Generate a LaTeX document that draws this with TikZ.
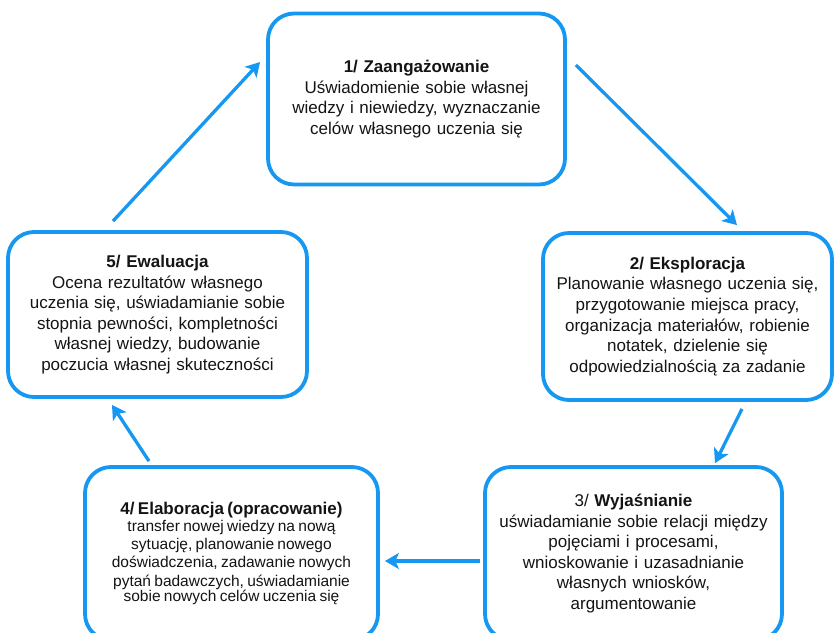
\documentclass[tikz,border=0pt]{standalone}
\usepackage{fontspec}
\setmainfont{Liberation Sans}
\usetikzlibrary{arrows.meta}
\definecolor{cycblue}{RGB}{22,152,242}
\definecolor{txt}{RGB}{20,20,20}
\tikzset{
  box/.style={draw=cycblue, line width=3.8pt, rounded corners=26pt, fill=white,
    inner sep=0pt, align=center, text=txt},
  big/.style={font=\fontsize{17pt}{20.6pt}\selectfont},
  arr/.style={draw=cycblue, line width=3.3pt, -{Stealth[length=14pt,width=16pt,inset=3.5pt]}},
}
\begin{document}
\begin{tikzpicture}[x=1pt,y=-1pt]
\useasboundingbox (0,0) rectangle (835,632);
\clip (0,0) rectangle (835,632);
\fill[white] (0,0) rectangle (835,632);

\node[box, big, minimum width=297pt, minimum height=171pt, text width=290pt] (b1) at (416.5,99)
  {\textbf{1/ Zaangażowanie}\\Uświadomienie sobie własnej\\wiedzy i niewiedzy, wyznaczanie\\celów własnego uczenia się};

\node[box, big, minimum width=289pt, minimum height=167pt, text width=282pt] (b2) at (687.5,316.5)
  {\textbf{2/ Eksploracja}\\Planowanie własnego uczenia się,\\przygotowanie miejsca pracy,\\organizacja materiałów, robienie\\notatek, dzielenie się\\odpowiedzialnością za zadanie};

\node[box, big, minimum width=297pt, minimum height=173pt, text width=290pt] (b3) at (633.5,553.5)
  {3/ \textbf{Wyjaśnianie}\\uświadamianie sobie relacji między\\pojęciami i procesami,\\wnioskowanie i uzasadnianie\\własnych wniosków,\\argumentowanie};

\node[box, minimum width=293pt, minimum height=173pt, text width=286pt] (b4) at (231.5,553.5)
  {{\fontsize{17pt}{20pt}\selectfont\textbf{4/ Elaboracja (opracowanie)}}\\[-1.5pt]
   \fontsize{15.5pt}{18.3pt}\selectfont
   transfer nowej wiedzy na nową\\sytuację, planowanie nowego\\doświadczenia, zadawanie nowych\\pytań badawczych, uświadamianie\\sobie nowych celów uczenia się};

\node[box, big, minimum width=299pt, minimum height=165pt, text width=292pt] (b5) at (157.5,314.5)
  {\textbf{5/ Ewaluacja}\\Ocena rezultatów własnego\\uczenia się, uświadamianie sobie\\stopnia pewności, kompletności\\własnej wiedzy, budowanie\\poczucia własnej skuteczności};

\draw[arr] ([shift={(9,-34)}]b1.east) -- ([shift={(49.5,-6)}]b2.north);
\draw[arr] ([shift={(54.5,7)}]b2.south) -- ([shift={(81.5,-2)}]b3.north);
\draw[arr] ([shift={(-3,7.5)}]b3.west) -- ([shift={(5,7.5)}]b4.east);
\draw[arr] ([shift={(-82.5,-4)}]b4.north) -- ([shift={(-45.5,6)}]b5.south);
\draw[arr] ([shift={(-44.5,-9)}]b5.north) -- ([shift={(-6,-37)}]b1.west);
\end{tikzpicture}
\end{document}
